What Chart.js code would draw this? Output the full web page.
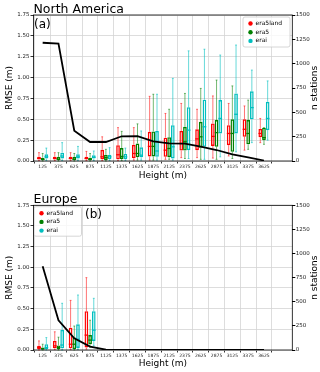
<!DOCTYPE html>
<html>
<head>
<meta charset="utf-8">
<script src="https://cdn.jsdelivr.net/npm/chart.js@4.4.0/dist/chart.umd.min.js"></script>
<style>
  body { margin: 0; background: #fff; }
  canvas { display: block; }
</style>
</head>
<body>
<canvas id="naChart" width="320" height="186"></canvas>
<canvas id="euChart" width="320" height="186"></canvas>
<script>
// Kelas ketinggian (m)
const heights = [125, 375, 625, 875, 1125, 1375, 1625, 1875, 2125, 2375, 2625, 2875, 3125, 3375, 3625];

// Statistik box per kelas: [whisker bawah, q1, median, q3, whisker atas]
const naEra5land = [
  [0.005, 0.02, 0.03, 0.05, 0.10], [0.005, 0.02, 0.03, 0.05, 0.10], [0.005, 0.02, 0.03, 0.05, 0.10],
  [0.005, 0.02, 0.03, 0.05, 0.115], [0.005, 0.02, 0.05, 0.135, 0.29], [0.005, 0.02, 0.075, 0.19, 0.40],
  [0.01, 0.035, 0.09, 0.195, 0.40], [0.01, 0.055, 0.175, 0.35, 0.775], [0.02, 0.05, 0.13, 0.28, 0.57],
  [0.04, 0.125, 0.21, 0.36, 0.69], [0.04, 0.13, 0.265, 0.38, 0.62], [0.035, 0.18, 0.295, 0.45, 0.78],
  [0.06, 0.19, 0.33, 0.43, 0.69], [0.13, 0.29, 0.38, 0.50, 0.66], [0.22, 0.285, 0.33, 0.385, 0.51]
];
const naEra5 = [
  [0.0, 0.01, 0.02, 0.04, 0.09], [0.0, 0.01, 0.02, 0.05, 0.10], [0.0, 0.01, 0.02, 0.05, 0.09],
  [0.0, 0.01, 0.02, 0.04, 0.09], [0.0, 0.01, 0.04, 0.075, 0.14], [0.005, 0.025, 0.055, 0.155, 0.355],
  [0.01, 0.045, 0.09, 0.21, 0.445], [0.01, 0.055, 0.175, 0.355, 0.80], [0.02, 0.045, 0.15, 0.285, 0.62],
  [0.03, 0.125, 0.23, 0.41, 0.81], [0.02, 0.16, 0.29, 0.47, 0.87], [0.02, 0.17, 0.34, 0.49, 0.97],
  [0.03, 0.11, 0.33, 0.50, 0.90], [0.14, 0.20, 0.33, 0.49, 0.73], [0.20, 0.25, 0.28, 0.40, 0.40]
];
const naErai = [
  [0.005, 0.03, 0.05, 0.08, 0.155], [0.005, 0.03, 0.06, 0.10, 0.22], [0.005, 0.03, 0.05, 0.08, 0.175],
  [0.005, 0.03, 0.045, 0.07, 0.12], [0.005, 0.02, 0.05, 0.075, 0.16], [0.005, 0.02, 0.05, 0.085, 0.155],
  [0.01, 0.045, 0.07, 0.165, 0.36], [0.01, 0.05, 0.12, 0.36, 0.80], [0.01, 0.03, 0.17, 0.43, 0.99],
  [0.03, 0.13, 0.37, 0.645, 1.32], [0.02, 0.17, 0.41, 0.735, 1.34], [0.05, 0.33, 0.51, 0.73, 1.27],
  [0.11, 0.33, 0.56, 0.81, 1.39], [0.22, 0.50, 0.64, 0.835, 1.09], [0.25, 0.37, 0.51, 0.71, 0.96]
];
const euEra5land = [
  [0.0, 0.01, 0.03, 0.05, 0.11], [0.005, 0.02, 0.05, 0.11, 0.22], [0.005, 0.02, 0.07, 0.27, 0.60],
  [0.01, 0.03, 0.18, 0.47, 0.875], null, null, null, null, null, null, null, null, null, null, null
];
const euEra5 = [
  [0.0, 0.005, 0.015, 0.03, 0.07], [0.0, 0.01, 0.03, 0.055, 0.155], [0.0, 0.01, 0.07, 0.15, 0.29],
  [0.035, 0.07, 0.12, 0.18, 0.36], null, null, null, null, null, null, null, null, null, null, null
];
const euErai = [
  [0.0, 0.01, 0.03, 0.07, 0.15], [0.0, 0.02, 0.06, 0.245, 0.565], [0.005, 0.025, 0.13, 0.31, 0.665],
  [0.05, 0.11, 0.24, 0.47, 0.625], null, null, null, null, null, null, null, null, null, null, null
];

// Jumlah stasiun per kelas
const naStations = [1215, 1205, 311, 195, 195, 254, 256, 202, 182, 178, 147, 113, 69, 38, 5];
const euStations = [868, 308, 122, 36, 3, 0, 0, 0, 0, 0, 0, 0, 0, 0, 0];

const FONT = 'DejaVu Sans';
const GRID = '#d4d4d4';
const models = [
  { label: 'era5land', color: '#ff0000', whisker: 'rgba(255,0,0,0.55)' },
  { label: 'era5', color: '#008000', whisker: 'rgba(0,128,0,0.55)' },
  { label: 'erai', color: '#00bfbf', whisker: 'rgba(0,191,191,0.6)' }
];

// whisker + median digambar lewat skala chart
const boxPlugin = {
  id: 'boxWhiskers',
  beforeDatasetsDraw(chart) {
    const ctx = chart.ctx;
    const y = chart.scales.y;
    chart.data.datasets.forEach((ds, di) => {
      if (!ds.stats) return;
      const meta = chart.getDatasetMeta(di);
      meta.data.forEach((bar, i) => {
        const s = ds.stats[i];
        if (!s) return;
        const x = bar.x, w = bar.width;
        const [lo, q1, med, q3, hi] = s.map(v => y.getPixelForValue(v));
        ctx.save();
        ctx.strokeStyle = ds.whiskerColor;
        ctx.lineWidth = 1;
        ctx.beginPath();
        ctx.moveTo(x, q3); ctx.lineTo(x, hi);
        ctx.moveTo(x, q1); ctx.lineTo(x, lo);
        ctx.moveTo(x - w / 4, hi); ctx.lineTo(x + w / 4, hi);
        ctx.moveTo(x - w / 4, lo); ctx.lineTo(x + w / 4, lo);
        ctx.stroke();
        ctx.strokeStyle = ds.borderColor;
        ctx.lineWidth = 1.3;
        ctx.beginPath();
        ctx.moveTo(x - w / 2, med); ctx.lineTo(x + w / 2, med);
        ctx.stroke();
        ctx.restore();
      });
    });
  }
};

// legenda dengan bingkai
const legendPlugin = {
  id: 'boxLegend',
  afterDraw(chart, args, o) {
    const ctx = chart.ctx;
    ctx.save();
    ctx.fillStyle = 'rgba(255,255,255,0.8)';
    ctx.strokeStyle = '#cccccc';
    ctx.lineWidth = 0.8;
    ctx.beginPath();
    ctx.roundRect(o.x, o.y, o.w, o.h, 2);
    ctx.fill();
    ctx.stroke();
    ctx.font = '6px "' + FONT + '"';
    ctx.textBaseline = 'middle';
    models.forEach((m, i) => {
      const ry = o.y + 6.5 + i * 8.7;
      ctx.fillStyle = m.color;
      ctx.beginPath();
      ctx.arc(o.x + 7.5, ry, 2.2, 0, Math.PI * 2);
      ctx.fill();
      ctx.fillStyle = '#000';
      ctx.fillText(m.label, o.x + 12.5, ry);
    });
    ctx.restore();
  }
};

// judul panel, label (a)/(b), judul sumbu kanan, bingkai
const panelText = {
  id: 'panelText',
  afterDraw(chart, args, o) {
    const ctx = chart.ctx;
    const a = chart.chartArea;
    ctx.save();
    ctx.strokeStyle = '#000';
    ctx.lineWidth = 0.8;
    ctx.strokeRect(a.left, a.top, a.right - a.left, a.bottom - a.top);
    ctx.fillStyle = '#000';
    ctx.textBaseline = 'alphabetic';
    ctx.font = '12.5px "' + FONT + '"';
    ctx.fillText(o.title, 33.5, o.titleY);
    ctx.font = '12px "' + FONT + '"';
    ctx.fillText(o.tag, o.tagX, o.tagY);
    ctx.translate(314.5, (a.top + a.bottom) / 2);
    ctx.rotate(-Math.PI / 2);
    ctx.font = '9px "' + FONT + '"';
    ctx.textAlign = 'center';
    ctx.textBaseline = 'middle';
    ctx.fillText('n stations', 0, 0);
    ctx.restore();
  }
};

function makeChart(id, statsList, stations, L) {
  const boxSets = models.map((m, k) => ({
    type: 'bar',
    label: m.label,
    stats: statsList[k],
    whiskerColor: m.whisker,
    data: statsList[k].map((s, i) => ({ x: heights[i], y: s ? [s[1], s[3]] : null })),
    borderColor: m.color,
    backgroundColor: 'transparent',
    borderWidth: 1.4,
    borderSkipped: false,
    categoryPercentage: 0.7,
    barPercentage: 1,
    yAxisID: 'y',
    order: 1
  }));
  const lineSet = {
    type: 'line',
    label: 'n stations',
    data: stations.map((v, i) => ({ x: heights[i], y: v })),
    borderColor: '#000',
    borderWidth: 1.8,
    pointRadius: 0,
    tension: 0,
    yAxisID: 'y2',
    order: 0
  };
  const tickFont = { family: FONT, size: 5.5 };
  return new Chart(document.getElementById(id), {
    type: 'bar',
    data: { datasets: [...boxSets, lineSet] },
    options: {
      responsive: false,
      animation: false,
      layout: { padding: { top: L.top, left: 0, right: 0, bottom: 0 } },
      plugins: {
        legend: { display: false },
        tooltip: { enabled: false },
        boxLegend: L.legend,
        panelText: { title: L.title, titleY: L.titleY, tag: L.tag, tagX: L.tagX, tagY: L.tagY }
      },
      scales: {
        x: {
          type: 'linear', min: -20, max: 4073, offset: false,
          afterBuildTicks: s => { s.ticks = heights.map(v => ({ value: v })); },
          afterFit: s => { s.height = L.xHeight; },
          grid: { color: GRID, lineWidth: 0.8, tickLength: 2.5, tickColor: '#000' },
          border: { display: false },
          ticks: { font: { family: FONT, size: 4.5 }, color: '#222', padding: 1, maxRotation: 0, autoSkip: false, callback: v => String(v) },
          title: { display: true, text: 'Height (m)', font: { family: FONT, size: 9 }, color: '#000', padding: { top: 0, bottom: L.xTitlePad } }
        },
        y: {
          position: 'left', min: 0, max: 1.75,
          afterFit: s => { s.width = 33.5; },
          grid: { color: GRID, lineWidth: 0.8, tickLength: 3, tickColor: '#000' },
          border: { display: false },
          ticks: { stepSize: 0.25, font: tickFont, color: '#222', padding: 1, callback: v => v.toFixed(2) },
          title: { display: true, text: 'RMSE (m)', font: { family: FONT, size: 9 }, color: '#000', padding: { top: 4.3, bottom: 0 } }
        },
        y2: {
          position: 'right', min: 0, max: 1500,
          afterFit: s => { s.width = 27.7; },
          grid: { drawOnChartArea: false, tickLength: 3, tickColor: '#000' },
          border: { display: false },
          ticks: { stepSize: 250, font: tickFont, color: '#222', padding: 0.5, callback: v => String(v) }
        }
      }
    },
    plugins: [boxPlugin, legendPlugin, panelText]
  });
}

makeChart('naChart', [naEra5land, naEra5, naErai], naStations, {
  top: 15, xHeight: 25, xTitlePad: 4.6,
  title: 'North America', titleY: 13, tag: '(a)', tagX: 34, tagY: 27.5,
  legend: { x: 243, y: 17, w: 47, h: 30 }
});
makeChart('euChart', [euEra5land, euEra5, euErai], euStations, {
  top: 19.3, xHeight: 22, xTitlePad: 3.3,
  title: 'Europe', titleY: 16.5, tag: '(b)', tagX: 85, tagY: 31.8,
  legend: { x: 34, y: 20.7, w: 47.5, h: 29.5 }
});
</script>
</body>
</html>
